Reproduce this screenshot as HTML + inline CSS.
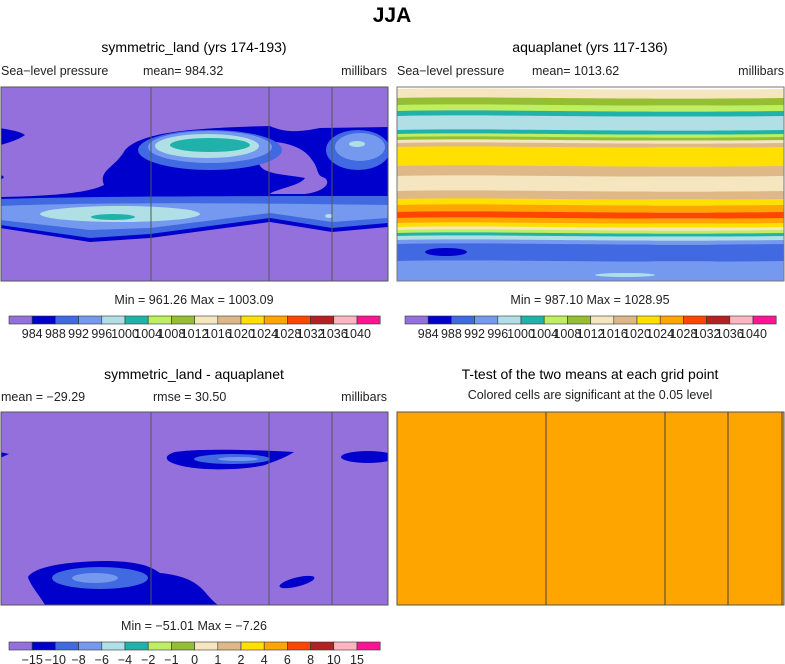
<!DOCTYPE html>
<html><head><meta charset="utf-8"><style>
body{margin:0;background:#fff;width:785px;height:664px;overflow:hidden}
svg{display:block;font-family:"Liberation Sans",sans-serif}
</style></head><body>
<svg id="s" width="785" height="664" viewBox="0 0 785 664">
<defs>
<clipPath id="c1"><rect x="1" y="87" width="387" height="194"/></clipPath>
<clipPath id="c3"><rect x="1" y="412" width="387" height="193"/></clipPath>
</defs>
<text x="392" y="22" text-anchor="middle" font-size="21" font-weight="bold">JJA</text>

<text x="194" y="52" text-anchor="middle" font-size="14">symmetric_land (yrs 174-193)</text>
<text x="590" y="52" text-anchor="middle" font-size="14">aquaplanet (yrs 117-136)</text>
<g font-size="12.5" fill="#222">
<text x="1" y="75">Sea−level pressure</text>
<text x="143" y="75">mean= 984.32</text>
<text x="387" y="75" text-anchor="end">millibars</text>
<text x="397" y="75">Sea−level pressure</text>
<text x="532" y="75">mean= 1013.62</text>
<text x="784" y="75" text-anchor="end">millibars</text>
<text x="194" y="304" text-anchor="middle">Min = 961.26 Max = 1003.09</text>
<text x="590" y="304" text-anchor="middle">Min = 987.10 Max = 1028.95</text>
<text x="1" y="401">mean = −29.29</text>
<text x="153" y="401">rmse =  30.50</text>
<text x="387" y="401" text-anchor="end">millibars</text>
<text x="590" y="399" text-anchor="middle">Colored cells are significant at the 0.05 level</text>
<text x="194" y="630" text-anchor="middle">Min = −51.01 Max =  −7.26</text>
</g>
<text x="194" y="379" text-anchor="middle" font-size="14">symmetric_land - aquaplanet</text>
<text x="590" y="379" text-anchor="middle" font-size="14">T-test of the two means at each grid point</text>

<g>
<g clip-path="url(#c1)">
<rect x="1" y="87" width="387" height="194" fill="#9370DB"/>
<path fill="#0000CD" d="M0,197 C60,196 90,192 104,185 C98,170 115,168 125,150 C140,134 180,128 270,126 C285,133 300,132 320,128 L388,127 L388,227 L332,232 L270,222 L150,238 L90,242 L0,228 Z"/>
<path fill="#9370DB" d="M262,142 C285,140 305,148 312,160 C320,170 315,175 325,178 C332,184 322,192 305,194 L270,194 C272,190 300,186 305,178 C290,175 275,175 265,170 C255,165 255,150 262,142 Z"/>
<path fill="#0000CD" d="M0,128 C10,130 20,131 25,135 C18,140 8,143 0,145 Z"/>
<path fill="#0000CD" d="M0,174 L4,177 L0,181 Z"/>
<path fill="#4169E1" d="M0,199 C100,196 250,196 388,196 L388,223 L332,228 L270,218 L150,234 L90,238 L0,225 Z"/>
<path fill="#7499EE" d="M0,206 C100,202 250,203 388,205 L388,218 L332,222 L270,213 L150,228 L90,230 L0,220 Z"/>
<ellipse cx="120" cy="214" rx="80" ry="8" fill="#B0E0E6"/>
<ellipse cx="113" cy="217" rx="22" ry="3" fill="#20B2AA"/>
<ellipse cx="329" cy="216" rx="4" ry="2" fill="#B0E0E6"/>
<ellipse cx="210" cy="150" rx="72" ry="20" fill="#4169E1"/>
<ellipse cx="210" cy="147" rx="62" ry="16" fill="#7499EE"/>
<ellipse cx="207" cy="146" rx="52" ry="12" fill="#B0E0E6"/>
<ellipse cx="210" cy="145" rx="40" ry="7" fill="#20B2AA"/>
<ellipse cx="358" cy="150" rx="32" ry="20" fill="#4169E1"/>
<ellipse cx="360" cy="147" rx="25" ry="14" fill="#7499EE"/>
<ellipse cx="357" cy="144" rx="8" ry="3" fill="#B0E0E6"/>
</g>
<g stroke="#555" stroke-width="1" fill="none">
<rect x="1" y="87" width="387" height="194"/>
<line x1="151" y1="87" x2="151" y2="281"/><line x1="269" y1="87" x2="269" y2="281"/><line x1="332" y1="87" x2="332" y2="281"/>
</g>
</g>

<g id="p2"></g>

<g>
<g clip-path="url(#c3)">
<rect x="1" y="412" width="387" height="193" fill="#9370DB"/>
<path fill="#0000CD" d="M0,452 L9,454 L0,458 Z"/>
<path fill="#0000CD" d="M175,452 C200,448 260,450 294,452 C285,458 275,461 265,465 C240,471 195,471 175,464 C163,460 165,455 175,452 Z"/>
<ellipse cx="232" cy="459" rx="38" ry="5" fill="#4169E1"/>
<ellipse cx="238" cy="459" rx="20" ry="2" fill="#7499EE"/>
<ellipse cx="368" cy="457" rx="27" ry="6" fill="#0000CD"/>
<path fill="#0000CD" d="M28,577 C35,566 70,561 110,561 C140,562 150,566 160,573 C180,575 195,580 205,592 C210,598 215,603 218,605 L45,605 C40,596 30,585 28,577 Z"/>
<ellipse cx="100" cy="578" rx="48" ry="11" fill="#4169E1"/>
<ellipse cx="95" cy="578" rx="23" ry="5" fill="#7499EE"/>
<ellipse cx="297" cy="582" rx="18" ry="4.5" fill="#0000CD" transform="rotate(-14 297 582)"/>
</g>
<g stroke="#555" stroke-width="1" fill="none">
<rect x="1" y="412" width="387" height="193"/>
<line x1="151" y1="412" x2="151" y2="605"/><line x1="269" y1="412" x2="269" y2="605"/><line x1="332" y1="412" x2="332" y2="605"/>
</g>
</g>

<g>
<rect x="397" y="412" width="387" height="193" fill="#FFA500" stroke="#555"/>
<g stroke="#444"><line x1="546" y1="412" x2="546" y2="605"/><line x1="665" y1="412" x2="665" y2="605"/><line x1="728" y1="412" x2="728" y2="605"/><line x1="782" y1="412" x2="782" y2="605"/></g>
</g>
<g id="cbars"></g>
</svg>
<script>
const colors=['#9370DB','#0000CD','#4169E1','#7499EE','#B0E0E6','#20B2AA','#BFEF60','#96BE32','#F5E6C0','#DEB887','#FFE000','#FFA500','#FF4500','#B22222','#FFB6C1','#FF1493'];
const slpLevels=['984','988','992','996','1000','1004','1008','1012','1016','1020','1024','1028','1032','1036','1040'];
const diffLevels=['−15','−10','−8','−6','−4','−2','−1','0','1','2','4','6','8','10','15'];
const bandEdges=[89,98,105,111,116,130,134,137,140,143,147,166,176,191,199,205,212,218,223,227,230,233,236,240,244,261,280];
const bandColor=[8,7,6,5,4,5,6,7,8,9,10,9,8,9,10,11,12,11,10,8,6,5,4,3,2,3];
const NS='http://www.w3.org/2000/svg';
function mk(t,a,p){const e=document.createElementNS(NS,t);for(const k in a)e.setAttribute(k,a[k]);p.appendChild(e);return e;}
const p2=document.getElementById('p2');
mk('rect',{x:397,y:87,width:387,height:194,fill:'#fff'},p2);
for(let i=0;i<bandColor.length;i++){
  const y0=bandEdges[i],y1=bandEdges[i+1];
  const r=mk('path',{fill:colors[bandColor[i]],d:`M397,${y0} C500,${y0-2} 600,${y0+2} 784,${y0} L784,${y1+0.5} L397,${y1+0.5} Z`},p2);
  
  
}
mk('ellipse',{cx:446,cy:252,rx:21,ry:4,fill:'#0000CD'},p2);
mk('ellipse',{cx:625,cy:275,rx:30,ry:2,fill:'#B0E0E6'},p2);
mk('rect',{x:397,y:87,width:387,height:194,fill:'none',stroke:'#777'},p2);

const cb=document.getElementById('cbars');
function colorbar(x0,y0,labels,name){
  const w=23.2,h=8;
  const g=mk('g',{},cb);
  
  
  colors.forEach((c,i)=>{
    const r=mk('rect',{x:x0+i*w,y:y0,width:w,height:h,fill:c,stroke:'#333','stroke-width':0.6},g);
    
    
  });
  labels.forEach((l,i)=>{
    const t=mk('text',{x:x0+(i+1)*w,y:y0+h+14,'text-anchor':'middle','font-size':12.5,fill:'#222'},g);
    t.textContent=l;
    
    
  });
}
colorbar(9,316,slpLevels,'panel1-colorbar');
colorbar(405,316,slpLevels,'panel2-colorbar');
colorbar(9,642,diffLevels,'panel3-colorbar');
</script>
</body></html>
